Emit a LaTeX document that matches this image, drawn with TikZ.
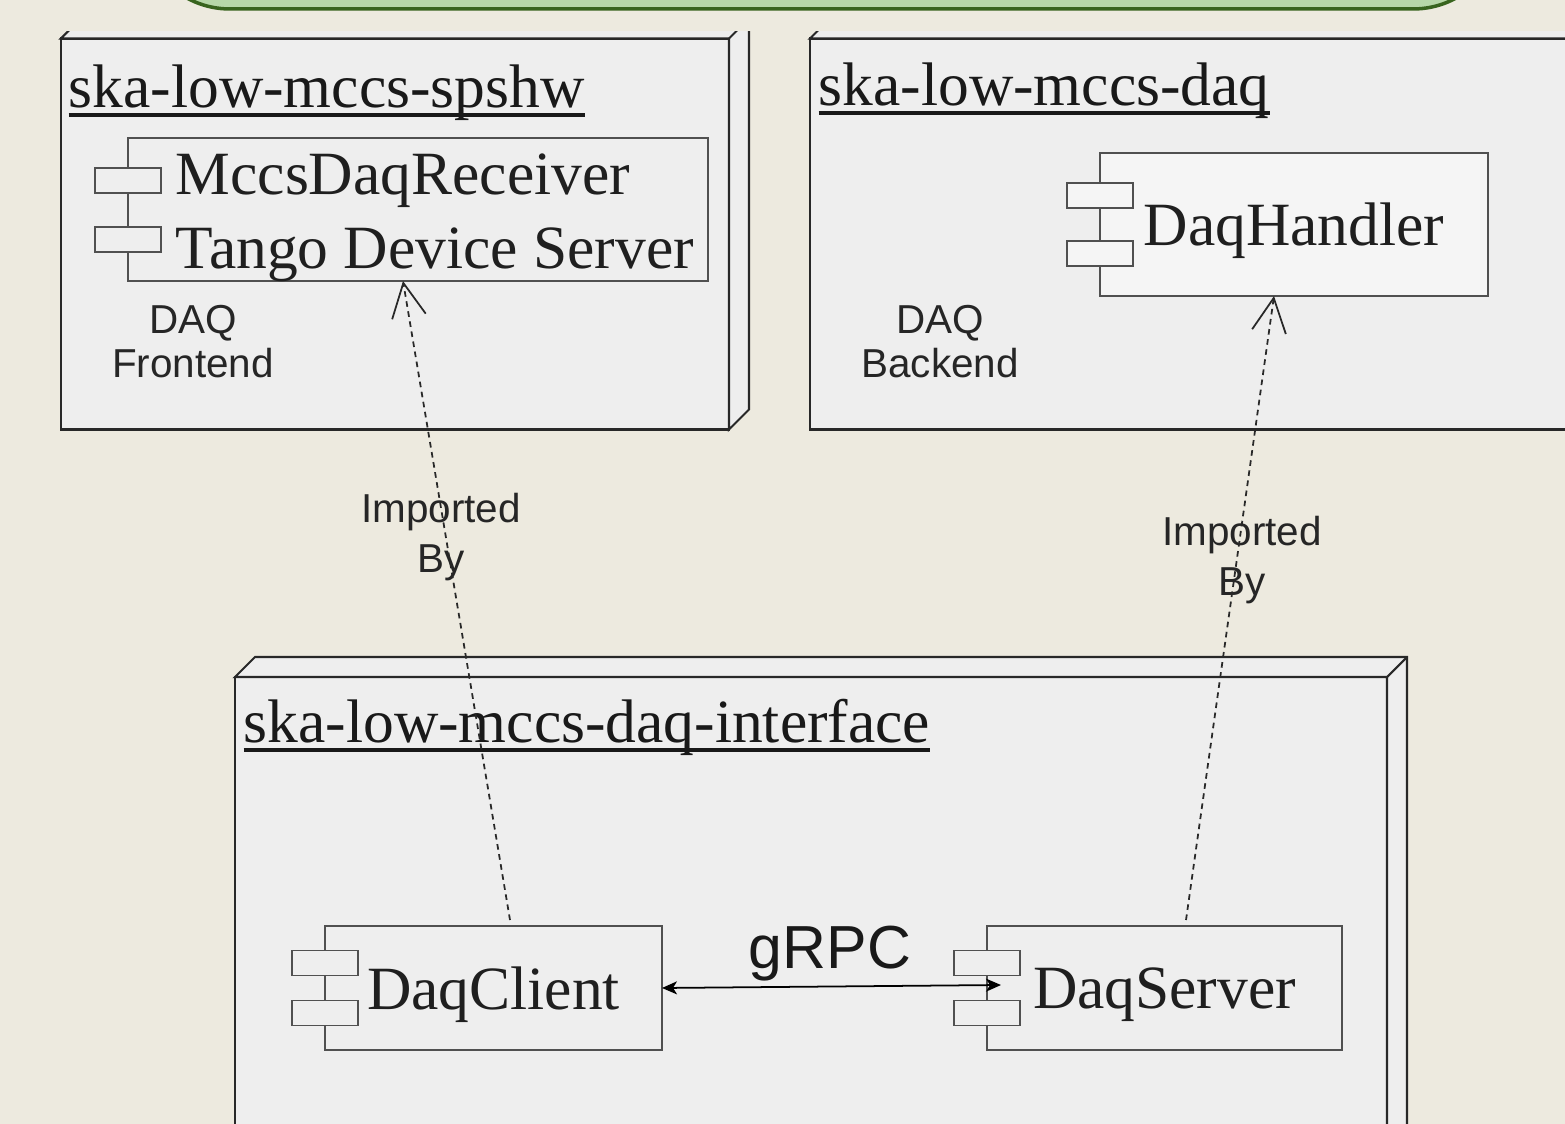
\documentclass[tikz,border=0pt]{standalone}
\usepackage{fontspec}
\setmainfont{Liberation Serif}
\setsansfont{Liberation Sans}
\usetikzlibrary{arrows.meta}

\definecolor{bgcol}{RGB}{237,234,223}
\definecolor{nodefill}{RGB}{238,238,238}
\definecolor{handfill}{RGB}{245,245,245}
\definecolor{nodeline}{RGB}{40,40,40}
\definecolor{compline}{RGB}{80,80,80}
\definecolor{greenfill}{RGB}{182,215,168}
\definecolor{greenline}{RGB}{56,100,30}

\newcommand{\ulname}[1]{\setbox0\hbox{#1}\rlap{\rule[-2.6pt]{\wd0}{1.1pt}}\box0}

\tikzset{
  pkgbox/.style={draw=nodeline, fill=nodefill, line width=0.6pt, outer sep=0pt},
  pkgname/.style={anchor=base west, inner sep=0pt, text=black!90, font=\fontsize{17.5}{21}\selectfont},
  comp/.style={draw=compline, fill=nodefill, line width=0.55pt, outer sep=0pt, inner sep=0pt, text depth=0pt, text=black!88, font=\fontsize{17.5}{21}\selectfont},
  comptab/.style={draw=compline, fill=nodefill, line width=0.55pt, minimum width=0.66cm, minimum height=0.25cm, inner sep=0pt},
  lbl/.style={align=center, inner sep=0pt, text=black!85},
  dep/.style={draw=nodeline, line width=0.5pt, dash pattern=on 1.6pt off 1.3pt, -{Straight Barb[length=3.4mm, width=3.4mm]}},
}

\begin{document}
\begin{tikzpicture}
\useasboundingbox (0,0) rectangle (15.65,-11.24);
\clip (0,0) rectangle (15.65,-11.24);
\fill[bgcol] (0,0) rectangle (15.65,-11.24);
\draw[fill=greenfill, draw=greenline, line width=1pt, rounded corners=0.9cm] (1.40,1.5) rectangle (15.03,-0.09);

% deployment nodes
\begin{scope}
  \clip (0,-0.32) rectangle (15.65,-11.24);
  \node[pkgbox, minimum width=6.68cm, minimum height=3.91cm] (spshw) at (3.95,-2.34) {};
  \filldraw[pkgbox] (spshw.north west) -- ++(0.2,0.2) -| ([shift={(0.2,0.2)}]spshw.south east) -- (spshw.south east) -- (spshw.north east) -- cycle;
  \draw[pkgbox] (spshw.north east) -- ++(0.2,0.2);

  \node[pkgbox, minimum width=7.9cm, minimum height=3.91cm] (daq) at (12.05,-2.34) {};
  \filldraw[pkgbox] (daq.north west) -- ++(0.2,0.2) -| ([shift={(0.2,0.2)}]daq.south east) -- (daq.south east) -- (daq.north east) -- cycle;

  \node[pkgbox, minimum width=11.52cm, minimum height=4.83cm] (iface) at (8.11,-9.185) {};
  \filldraw[pkgbox] (iface.north west) -- ++(0.2,0.2) -| ([shift={(0.2,0.2)}]iface.south east) -- (iface.south east) -- (iface.north east) -- cycle;
  \draw[pkgbox] (iface.north east) -- ++(0.2,0.2);
\end{scope}

\node[pkgname] (spshwname) at (0.68,-1.08) {\ulname{ska-low-mccs-spshw}};
\node[pkgname] (daqname) at (8.18,-1.06) {\ulname{ska-low-mccs-daq}};
\node[pkgname] (ifacename) at (2.43,-7.43) {\ulname{ska-low-mccs-daq-interface}};

% components
\node[comp, minimum width=5.80cm, minimum height=1.43cm] (rx) at (4.18,-2.095) {};
\node[comptab] (rxa) at ([yshift=0.29cm]rx.west) {};
\node[comptab] (rxb) at ([yshift=-0.30cm]rx.west) {};
\node[anchor=north west, inner sep=0pt, align=left, text=black!88, font=\fontsize{17.5}{21}\selectfont] (rxtxt) at (1.75,-1.53) {MccsDaqReceiver\\Tango Device Server};

\node[comp, fill=handfill, minimum width=3.88cm, minimum height=1.43cm] (hd) at (12.94,-2.245) {DaqHandler};
\node[comptab, fill=handfill] (hda) at ([yshift=0.29cm]hd.west) {};
\node[comptab, fill=handfill] (hdb) at ([yshift=-0.29cm]hd.west) {};

\node[comp, minimum width=3.37cm, minimum height=1.24cm] (cl) at (4.935,-9.88) {DaqClient};
\node[comptab] (cla) at ([yshift=0.25cm]cl.west) {};
\node[comptab] (clb) at ([yshift=-0.25cm]cl.west) {};

\node[comp, minimum width=3.55cm, minimum height=1.24cm] (sv) at (11.645,-9.88) {DaqServer};
\node[comptab] (sva) at ([yshift=0.25cm]sv.west) {};
\node[comptab] (svb) at ([yshift=-0.25cm]sv.west) {};

% labels
\node[lbl, font=\sffamily\fontsize{11.5}{12.5}\selectfont] (front) at (1.93,-3.42) {DAQ\\Frontend};
\node[lbl, font=\sffamily\fontsize{11.5}{12.5}\selectfont] (back) at (9.40,-3.42) {DAQ\\Backend};
\node[lbl, font=\sffamily\fontsize{11.5}{14}\selectfont] (impa) at (4.41,-5.37) {Imported\\By};
\node[lbl, font=\sffamily\fontsize{11.5}{14}\selectfont] (impb) at (12.42,-5.60) {Imported\\By};
\node[anchor=base, inner sep=0pt, text=black!90, font=\sffamily\fontsize{17.3}{20}\selectfont] (rpc) at (8.30,-9.68) {gRPC};

\draw[dep] ([shift={(0.165,0.06)}]cl.north) -- ([xshift=-0.15cm]rx.south);
\draw[dep] ([shift={(0.215,0.06)}]sv.north) -- ([xshift=-0.2cm]hd.south);
\draw[{Stealth[length=1.5mm, width=1.3mm, inset=0.4mm]}-{Stealth[length=1.5mm, width=1.3mm, inset=0.4mm]}, line width=0.5pt] (cl.east) -- ([shift={(0.14,0.03)}]sv.west);
\end{tikzpicture}
\end{document}
